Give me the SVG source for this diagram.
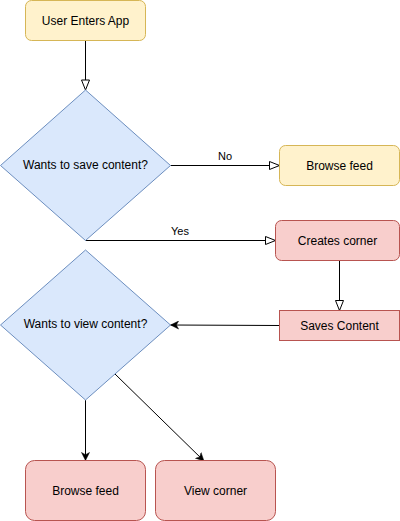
<svg xmlns="http://www.w3.org/2000/svg" width="400" height="521" viewBox="0 0 400 521">
<defs>
<style>
text{font-family:"Liberation Sans",Arial,sans-serif;font-size:12px;fill:#000;text-anchor:middle;dominant-baseline:central}
.y{fill:#fff2cc;stroke:#d6b656}
.r{fill:#f8cecc;stroke:#b85450}
.b{fill:#dae8fc;stroke:#6c8ebf}
.e{fill:none;stroke:#000;stroke-width:1}
.lbl{font-size:11px}
</style>
<marker id="open" viewBox="0 0 12 10" refX="11" refY="5" markerWidth="12" markerHeight="10" markerUnits="userSpaceOnUse" orient="auto">
<path d="M1,1 L11,5 L1,9 Z" fill="#fff" stroke="#000" stroke-width="1"/>
</marker>
<marker id="fill" viewBox="0 0 10 10" refX="9" refY="5" markerWidth="9" markerHeight="9" markerUnits="userSpaceOnUse" orient="auto">
<path d="M0,0.5 L9,5 L0,9.5 L2.5,5 Z" fill="#000" stroke="#000" stroke-width="0.5"/>
</marker>
</defs>
<rect width="400" height="521" fill="#fff"/>
<g id="connectors">
<path class="e" d="M85.5,40.5 L85.5,90" marker-end="url(#open)"/>
<path class="e" d="M170.5,165.5 L279.5,165.5" marker-end="url(#open)"/>
<text class="lbl" x="225" y="156">No</text>
<path class="e" d="M85.5,240.5 L275.5,240.5" marker-end="url(#open)"/>
<text class="lbl" x="180" y="231">Yes</text>
<path class="e" d="M339.5,260.5 L339.5,310.5" marker-end="url(#open)"/>
<path class="e" d="M279.5,325.5 L170.5,325" marker-end="url(#fill)"/>
<path class="e" d="M85.5,400 L85.5,460.5" marker-end="url(#fill)"/>
<path class="e" d="M115,374 L204,461" marker-end="url(#fill)"/>
</g>
<g id="user-enters-app">
<rect class="y" x="25.5" y="0.5" width="120" height="40" rx="6"/>
<text x="85.5" y="20.5">User Enters App</text>
</g>
<g id="save-decision">
<path class="b" d="M85.5,90 L170.5,165.5 L85.5,240.5 L0.5,165.5 Z"/>
<text x="85.5" y="165">Wants to save content?</text>
</g>
<g id="browse-feed-1">
<rect class="y" x="279.5" y="145.5" width="120" height="40" rx="6"/>
<text x="339.5" y="165.5">Browse feed</text>
</g>
<g id="creates-corner">
<rect class="r" x="275.5" y="220.5" width="124" height="40" rx="6"/>
<text x="337.5" y="240.5">Creates corner</text>
</g>
<g id="saves-content">
<rect class="r" x="279.5" y="310.5" width="120" height="30"/>
<text x="339.5" y="325.5">Saves Content</text>
</g>
<g id="view-decision">
<path class="b" d="M85.5,250 L170.5,325 L85.5,400 L0.5,325 Z"/>
<text x="85.5" y="323.5">Wants to view content?</text>
</g>
<g id="browse-feed-2">
<rect class="r" x="25.5" y="460.5" width="120" height="60" rx="9"/>
<text x="85.5" y="490.5">Browse feed</text>
</g>
<g id="view-corner">
<rect class="r" x="155.5" y="460.5" width="120" height="60" rx="9"/>
<text x="215.5" y="490.5">View corner</text>
</g>
</svg>
